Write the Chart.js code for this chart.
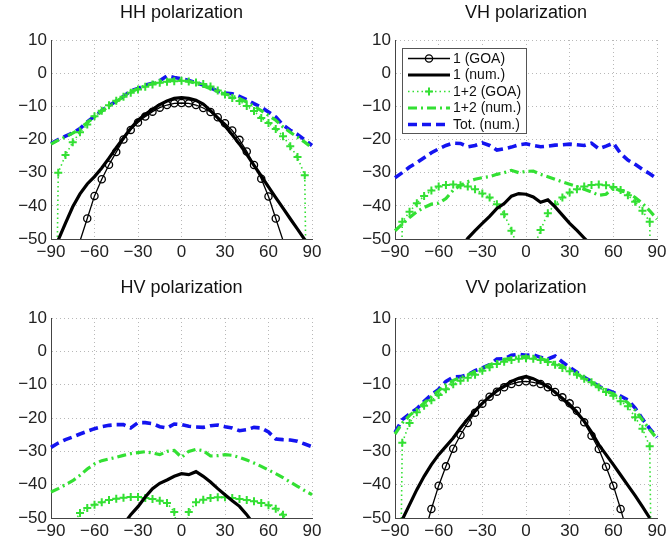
<!DOCTYPE html>
<html>
<head>
<meta charset="utf-8">
<script src="https://cdn.jsdelivr.net/npm/chart.js@4.4.0/dist/chart.umd.min.js"></script>
<style>
  body { margin: 0; background: #fff; }
  #wrap { position: relative; width: 668px; height: 548px; }
  canvas { position: absolute; }
</style>
</head>
<body>
<div id="wrap">
  <canvas id="hh" width="334" height="274" style="left:0;top:0"></canvas>
  <canvas id="vh" width="334" height="274" style="left:334px;top:0"></canvas>
  <canvas id="hv" width="334" height="274" style="left:0;top:274px"></canvas>
  <canvas id="vv" width="334" height="274" style="left:334px;top:274px"></canvas>
</div>
<script>
'use strict';

// Scattering angle (deg), the same grid for every curve.
const angles = [-90, -85, -80, -75, -70, -65, -60, -55, -50, -45, -40, -35, -30, -25, -20, -15, -10, -5,
    0, 5, 10, 15, 20, 25, 30, 35, 40, 45, 50, 55, 60, 65, 70, 75, 80, 85, 90];

const seriesLabels = ['1 (GOA)', '1 (num.)', '1+2 (GOA)', '1+2 (num.)', 'Tot. (num.)'];

const xTicks = [-90, -60, -30, 0, 30, 60, 90];
const yTicks = [-50, -40, -30, -20, -10, 0, 10];

// Values in dB. null = not drawn / no point.
// (-200 at +-90 is the GOA curve dropping straight off the bottom.)

// HH polarization
const hhGoa1 = [null, null, null, null, -50.6, -43.8, -37.0, -32.0, -27.6, -23.8, -20.0, -17.1, -14.9, -13.1, -11.6, -10.4, -9.6, -9.1,
    -9.0, -9.1, -9.6, -10.5, -11.7, -13.3, -15.1, -17.3, -20.1, -23.6, -27.7, -31.8, -37.2, -43.8, -50.4, null, null, null, null];
const hhNum1 = [null, -50.3, -45.2, -40.3, -36.4, -33.4, -31.2, -28.6, -25.6, -22.5, -19.5, -16.6, -14.2, -12.4, -10.9, -9.5, -8.4, -7.6,
    -7.4, -7.6, -8.2, -9.3, -11.3, -13.5, -15.9, -18.6, -21.4, -24.5, -27.8, -31.0, -34.3, -37.5, -40.7, -43.9, -47.0, -50.2, null];
const hhGoa12 = [-200, -30.0, -24.7, -20.8, -17.8, -15.5, -13.0, -11.3, -9.7, -8.3, -7.1, -5.9, -4.9, -4.1, -3.4, -2.9, -2.6, -2.4,
    -2.3, -2.5, -2.8, -3.3, -4.0, -5.2, -6.4, -7.5, -8.4, -9.9, -11.4, -13.5, -15.0, -16.8, -19.0, -22.0, -25.3, -30.8, -200];
const hhNum12 = [-21.4, -20.2, -19.2, -18.1, -16.8, -14.9, -13.2, -11.5, -9.9, -8.5, -7.1, -5.6, -4.7, -3.8, -3.1, -2.6, -2.1, -2.0,
    -2.1, -2.5, -3.0, -3.8, -4.7, -5.6, -6.3, -6.9, -7.7, -8.7, -10.0, -11.3, -12.7, -14.2, -16.2, -17.8, -19.3, -20.8, -22.5];
const hhTot = [-21.2, -20.0, -19.0, -18.0, -16.7, -14.7, -13.0, -11.3, -9.8, -8.4, -7.0, -5.3, -4.6, -3.6, -3.0, -2.3, -0.8, -1.3,
    -1.7, -2.2, -2.9, -3.6, -4.4, -5.4, -6.0, -6.2, -7.0, -8.0, -9.2, -10.3, -11.7, -13.2, -15.6, -17.2, -18.5, -20.1, -21.8];

// VH polarization (1 (GOA) stays below the axis)
const vhGoa1 = [];
const vhNum1 = [null, null, null, null, null, null, null, null, null, -53.0, -49.8, -47.5, -45.3, -43.2, -40.8, -39.3, -37.1, -36.3,
    -36.5, -37.3, -38.9, -38.2, -40.3, -42.8, -45.3, -47.4, -49.7, -52.0, null, null, null, null, null, null, null, null, null];
const vhGoa12 = [-200, -44.8, -41.8, -39.2, -37.0, -35.4, -34.2, -33.7, -33.6, -33.8, -34.2, -35.0, -36.3, -37.5, -39.5, -42.5, -47.5, -53.0,
    -70.0, -53.0, -47.3, -42.2, -39.5, -37.5, -36.0, -35.0, -34.2, -33.7, -33.6, -33.8, -34.3, -35.2, -36.8, -38.8, -41.5, -44.8, -200];
const vhNum12 = [-47.5, -45.5, -43.5, -41.8, -40.5, -39.5, -39.2, -37.8, -35.3, -33.8, -32.7, -32.0, -31.5, -31.2, -30.5, -30.0, -29.3, -30.0,
    -29.6, -29.5, -30.5, -31.2, -32.0, -32.8, -33.5, -34.2, -35.0, -35.8, -36.8, -36.5, -34.5, -35.5, -36.0, -37.5, -39.3, -41.5, -44.0];
const vhTot = [-31.5, -30.0, -28.3, -27.0, -25.5, -24.0, -22.8, -21.8, -21.1, -21.2, -22.2, -21.8, -21.0, -21.8, -23.2, -22.8, -22.3, -21.6,
    -21.3, -21.8, -22.2, -22.0, -21.7, -21.6, -21.4, -21.6, -21.8, -21.1, -22.8, -22.0, -21.1, -24.2, -26.2, -27.5, -29.0, -30.3, -31.8];

// HV polarization
const hvGoa1 = [];
const hvNum1 = [null, null, null, null, null, null, null, null, null, null, -52.0, -49.0, -46.6, -43.7, -41.2, -39.6, -38.6, -37.5,
    -36.7, -37.0, -36.1, -37.5, -39.2, -41.2, -43.0, -44.8, -46.5, -49.0, -52.0, null, null, null, null, null, null, null, null];
const hvGoa12 = [null, null, null, -52.0, -48.5, -47.0, -46.0, -45.3, -44.6, -44.2, -43.9, -43.7, -43.7, -44.0, -44.3, -44.8, -45.5, -48.2,
    -60.0, -48.2, -45.3, -44.5, -44.0, -43.8, -43.8, -44.0, -44.3, -44.6, -45.0, -45.5, -46.2, -47.2, -49.0, -52.0, null, null, null];
const hvNum12 = [-42.2, -41.2, -40.0, -38.8, -37.2, -35.3, -33.8, -32.8, -32.3, -31.8, -31.2, -30.7, -30.4, -30.1, -30.5, -31.0, -30.0, -29.7,
    -31.8, -30.0, -29.4, -29.8, -31.4, -31.3, -31.0, -31.2, -31.8, -32.6, -33.5, -34.5, -35.6, -36.7, -37.9, -39.2, -40.5, -41.8, -43.0];
const hvTot = [-28.8, -27.5, -26.5, -25.7, -24.8, -24.0, -23.2, -22.6, -22.2, -22.0, -22.0, -23.0, -21.4, -21.4, -21.7, -22.6, -23.0, -21.8,
    -22.0, -22.5, -22.7, -22.8, -22.3, -22.1, -22.6, -23.0, -23.8, -23.5, -22.8, -23.0, -24.2, -26.3, -26.5, -26.6, -27.0, -27.8, -28.6];

// VV polarization
const vvGoa1 = [null, null, null, null, -55.0, -47.3, -40.3, -34.5, -29.2, -25.1, -21.5, -18.4, -15.7, -13.6, -12.1, -10.8, -9.8, -9.2,
    -9.0, -9.3, -9.8, -10.8, -12.2, -13.8, -15.6, -17.8, -21.3, -25.3, -29.3, -34.6, -40.3, -47.3, -55.0, null, null, null, null];
const vvNum1 = [null, -50.5, -46.0, -41.5, -37.5, -34.0, -31.0, -28.5, -26.0, -23.0, -20.3, -17.8, -15.6, -13.6, -11.8, -10.4, -9.0, -8.1,
    -7.5, -8.2, -9.3, -10.6, -12.3, -14.2, -16.2, -18.4, -21.0, -24.2, -28.0, -31.0, -34.0, -37.1, -40.2, -43.3, -46.6, -50.0, null];
const vvGoa12 = [-200, -27.4, -21.5, -18.3, -16.3, -14.7, -13.1, -11.4, -9.9, -8.8, -7.9, -7.0, -5.8, -4.8, -3.8, -3.1, -2.6, -2.2,
    -2.1, -2.2, -2.6, -3.2, -4.0, -5.0, -6.0, -7.0, -8.2, -9.3, -10.8, -12.2, -13.3, -15.0, -16.5, -19.8, -23.2, -28.5, -200];
const vvNum12 = [-24.8, -21.5, -19.2, -17.5, -15.5, -13.6, -11.8, -10.0, -8.7, -7.9, -7.1, -6.0, -5.1, -4.1, -3.1, -2.5, -2.0, -1.7,
    -1.6, -1.8, -2.2, -2.8, -3.5, -4.5, -5.6, -6.8, -8.1, -9.3, -10.7, -11.8, -12.8, -14.0, -15.4, -17.6, -20.6, -23.5, -26.2];
const vvTot = [-24.3, -20.5, -18.8, -17.2, -15.0, -13.0, -11.4, -9.0, -7.7, -7.6, -7.0, -5.8, -5.0, -4.0, -2.3, -2.2, -1.2, -0.9,
    -1.2, -1.0, -1.8, -2.3, -1.4, -3.2, -4.8, -6.3, -7.8, -9.0, -10.5, -11.5, -12.3, -13.4, -14.6, -17.0, -20.3, -23.2, -25.8];


const FONT = '"Liberation Sans", Arial, Helvetica, sans-serif';
Chart.defaults.font.family = FONT;

const green = '#33e033';
const blue = '#1414f0';

// keep markers off when the point is below the axes
function markerSize(r) {
    return ctx => (ctx.raw && ctx.raw.y !== null && ctx.raw.y >= -50 ? r : 0);
}

const lineStyles = [
    { borderColor: '#000', borderWidth: 1.3, pointStyle: 'circle', pointRadius: markerSize(3.6),
      pointBorderColor: '#000', pointBorderWidth: 1.3, pointBackgroundColor: 'rgba(0,0,0,0)' },
    { borderColor: '#000', borderWidth: 3.2, pointRadius: 0 },
    { borderColor: green, borderWidth: 1.6, borderDash: [1.5, 3], pointStyle: 'cross', pointRadius: markerSize(4),
      pointBorderColor: green, pointBorderWidth: 2 },
    { borderColor: green, borderWidth: 3.2, borderDash: [9, 4, 2, 4], pointRadius: 0 },
    { borderColor: blue, borderWidth: 3.6, borderDash: [9, 5], pointRadius: 0 },
];

function toPoints(values) {
    return values.map((v, i) => ({ x: angles[i], y: v }));
}

function minusSign(v) {
    return v < 0 ? '\u2212' + Math.abs(v) : String(v);
}

// MATLAB-style legend box drawn inside the axes
const insideLegend = {
    id: 'insideLegend',
    afterDatasetsDraw(chart, args, opts) {
        if (!opts.show) return;
        const ctx = chart.ctx;
        const area = chart.chartArea;
        const x0 = area.left + 7;
        const y0 = area.top + 8;
        const w = 124, h = 85;
        ctx.save();
        ctx.fillStyle = '#fff';
        ctx.fillRect(x0, y0, w, h);
        ctx.strokeStyle = '#555';
        ctx.lineWidth = 1;
        ctx.strokeRect(x0 + 0.5, y0 + 0.5, w, h);

        chart.data.datasets.forEach((ds, i) => {
            const y = y0 + 10.5 + i * 16.5;
            const a = x0 + 6, b = x0 + 48;
            ctx.save();
            ctx.strokeStyle = ds.borderColor;
            ctx.lineWidth = ds.borderWidth;
            ctx.setLineDash(ds.borderDash || []);
            ctx.beginPath();
            ctx.moveTo(a, y);
            ctx.lineTo(b, y);
            ctx.stroke();
            ctx.setLineDash([]);
            const mx = (a + b) / 2;
            if (ds.pointStyle === 'circle') {
                ctx.lineWidth = 1.3;
                ctx.beginPath();
                ctx.arc(mx, y, 3.6, 0, Math.PI * 2);
                ctx.stroke();
            } else if (ds.pointStyle === 'cross') {
                ctx.lineWidth = 2;
                ctx.beginPath();
                ctx.moveTo(mx - 4, y); ctx.lineTo(mx + 4, y);
                ctx.moveTo(mx, y - 4); ctx.lineTo(mx, y + 4);
                ctx.stroke();
            }
            ctx.restore();
            ctx.fillStyle = '#111';
            ctx.font = '14px ' + FONT;
            ctx.textBaseline = 'middle';
            ctx.fillText(ds.label, b + 3, y + 0.5);
        });
        ctx.restore();
    }
};

function makePanel(id, title, series, box) {
    const datasets = series.map((values, i) => Object.assign({
        label: seriesLabels[i],
        data: toPoints(values),
        tension: 0,
        spanGaps: false,
        fill: false,
        clip: { left: 3, right: 3, top: 3, bottom: 0 },
    }, lineStyles[i]));

    const config = {
        type: 'line',
        data: { datasets: datasets },
        plugins: [insideLegend],
        options: {
            responsive: false,
            animation: false,
            events: [],
            layout: { padding: { left: 0, right: box.right, top: 0, bottom: box.bottom } },
            plugins: {
                legend: { display: false },
                tooltip: { enabled: false },
                insideLegend: { show: box.legend },
                title: {
                    display: true,
                    text: title,
                    fullSize: false,
                    color: '#111',
                    font: { size: 18, weight: 'normal', lineHeight: 1.2 },
                    padding: { top: box.titleTop, bottom: box.top - box.titleTop - 21.6 },
                },
            },
            scales: {
                x: {
                    type: 'linear',
                    min: xTicks[0],
                    max: xTicks[xTicks.length - 1],
                    afterBuildTicks: s => { s.ticks = xTicks.map(v => ({ value: v })); },
                    ticks: { maxRotation: 0, autoSkip: false, padding: 3, color: '#222',
                             font: { size: 17 }, callback: minusSign },
                    grid: { color: '#b8b8b8', drawTicks: false },
                    border: { color: '#444', width: 1, dash: [1, 3] },
                    afterFit: s => { s.height = box.xh; s.paddingLeft = 0; s.paddingRight = 0; },
                },
                y: {
                    type: 'linear',
                    min: yTicks[0],
                    max: yTicks[yTicks.length - 1],
                    afterBuildTicks: s => { s.ticks = yTicks.map(v => ({ value: v })); },
                    ticks: { padding: 4, color: '#222', font: { size: 17 }, callback: minusSign },
                    grid: { color: '#b8b8b8', drawTicks: false },
                    border: { color: '#444', width: 1, dash: [1, 3] },
                    afterFit: s => { s.width = box.yw; s.paddingTop = 0; s.paddingBottom = 0; },
                },
            },
        },
    };
    return new Chart(document.getElementById(id), config);
}

makePanel('hh', 'HH polarization', [hhGoa1, hhNum1, hhGoa12, hhNum12, hhTot],
    { yw: 51, right: 22, top: 40, titleTop: 2, xh: 30, bottom: 5, legend: false });
makePanel('vh', 'VH polarization', [vhGoa1, vhNum1, vhGoa12, vhNum12, vhTot],
    { yw: 61, right: 11, top: 40, titleTop: 2, xh: 30, bottom: 5, legend: true });
makePanel('hv', 'HV polarization', [hvGoa1, hvNum1, hvGoa12, hvNum12, hvTot],
    { yw: 51, right: 22, top: 44, titleTop: 3, xh: 26, bottom: 4, legend: false });
makePanel('vv', 'VV polarization', [vvGoa1, vvNum1, vvGoa12, vvNum12, vvTot],
    { yw: 61, right: 11, top: 44, titleTop: 3, xh: 26, bottom: 4, legend: false });
</script>
</body>
</html>
